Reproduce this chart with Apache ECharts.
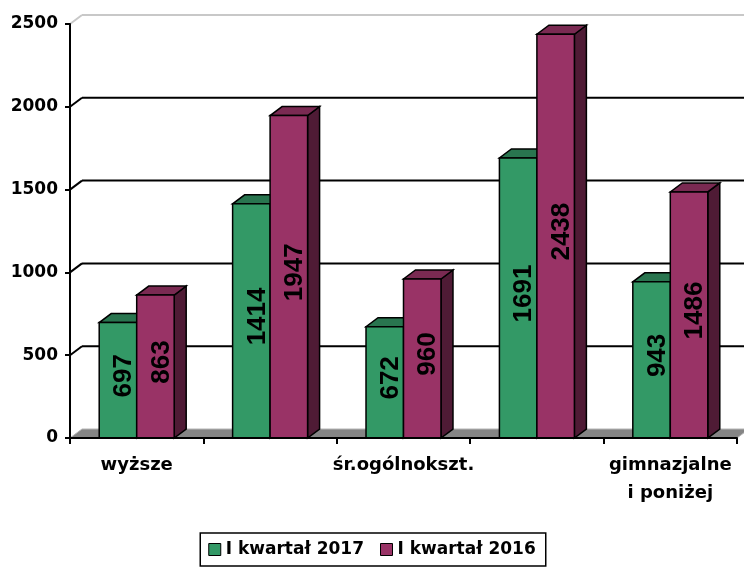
<!DOCTYPE html>
<html>
<head>
<meta charset="utf-8">
<script src="https://cdn.jsdelivr.net/npm/echarts@6/dist/echarts.min.js"></script>
<style>
  html, body { margin: 0; padding: 0; background: #fff; }
  #main { width: 744px; height: 568px; }
</style>
</head>
<body>
<div id="main"></div>
<script>
// data
var categories = ['wyższe', 'policealne i śr.zawod.', 'śr.ogólnokszt.', 'zasadnicze zawodowe', 'gimnazjalne\ni poniżej'];
var seriesNames = ['I kwartał 2017', 'I kwartał 2016'];
var values2017 = [697, 1414, 672, 1691, 943];
var values2016 = [863, 1947, 960, 2438, 1486];
var yTicks = [0, 500, 1000, 1500, 2000, 2500];

var DX = 12, DY = -9; // depth of the fake 3d look
var BAR_FRAC = 0.281;  // one bar's share of the category band
var FONT = 'DejaVu Sans';

var chart = echarts.init(document.getElementById('main'));

// back wall gridlines + grey floor, shifted back by DX/DY
function wallRenderer(params, api) {
  var v = api.value(1);
  var cs = params.coordSys;
  var y = api.coord([0, v])[1];
  var x0 = cs.x, x1 = cs.x + cs.width;
  if (v === 0) {
    return {
      type: 'polygon',
      shape: { points: [[x0, y], [x1, y], [x1 + DX, y + DY], [x0 + DX, y + DY]] },
      style: { fill: '#858585', stroke: '#b5b5b5', lineWidth: 1 }
    };
  }
  var col = v === yTicks[yTicks.length - 1] ? '#c8c8c8' : '#000';
  return {
    type: 'group',
    children: [
      { type: 'line', shape: { x1: x0, y1: y, x2: x0 + DX, y2: y + DY }, style: { stroke: col, lineWidth: 2 } },
      { type: 'line', shape: { x1: x0 + DX, y1: y + DY, x2: x1 + DX, y2: y + DY }, style: { stroke: col, lineWidth: 2 } }
    ]
  };
}

function barRenderer(slot, front, top, side) {
  return function (params, api) {
    var i = api.value(0), v = api.value(1);
    var p = api.coord([i, v]);
    var base = api.coord([i, 0]);
    var bw = api.size([1, 0])[0];
    var w = bw * BAR_FRAC;
    var x = p[0] - w + slot * w;
    var y = p[1], y0 = base[1];
    return {
      type: 'group',
      children: [
        {
          type: 'polygon',
          shape: { points: [[x + w, y], [x + w + DX, y + DY], [x + w + DX, y0 + DY], [x + w, y0]] },
          style: { fill: side, stroke: '#000', lineWidth: 1.5 }
        },
        {
          type: 'polygon',
          shape: { points: [[x, y], [x + w, y], [x + w + DX, y + DY], [x + DX, y + DY]] },
          style: { fill: top, stroke: '#000', lineWidth: 1.5 }
        },
        {
          type: 'rect',
          shape: { x: x, y: y, width: w, height: y0 - y },
          style: { fill: front, stroke: '#000', lineWidth: 1.5 }
        },
        {
          type: 'text',
          x: x + w / 2 + DX / 2,
          y: (y + y0) / 2 + DY / 2,
          rotation: Math.PI / 2,
          style: {
            text: String(v),
            font: 'bold 26px "Liberation Sans", Arial, sans-serif',
            fill: '#000',
            align: 'center',
            verticalAlign: 'middle'
          }
        }
      ]
    };
  };
}

chart.setOption({
  animation: false,
  backgroundColor: '#fff',
  grid: { left: 70, right: 7, top: 24, bottom: 130 },
  legend: {
    data: seriesNames,
    bottom: 2,
    left: 'center',
    borderColor: '#000',
    borderWidth: 1.5,
    padding: [8, 10, 8, 8],
    itemWidth: 12,
    itemHeight: 12,
    itemGap: 16,
    icon: 'rect',
    itemStyle: { borderColor: '#000', borderWidth: 1 },
    textStyle: { fontFamily: FONT, fontWeight: 'bold', fontSize: 17, color: '#000' }
  },
  xAxis: {
    type: 'category',
    data: categories,
    z: 5,
    axisLine: { lineStyle: { color: '#000', width: 2 } },
    axisTick: { show: true, interval: 0, length: 6, lineStyle: { color: '#000', width: 2 } },
    axisLabel: {
      interval: 1,
      margin: 13,
      color: '#000',
      fontFamily: FONT,
      fontWeight: 'bold',
      fontSize: 18,
      lineHeight: 28
    }
  },
  yAxis: {
    type: 'value',
    min: 0,
    max: 2500,
    interval: 500,
    z: 5,
    axisLine: { show: true, lineStyle: { color: '#000', width: 2 } },
    axisTick: { show: true, length: 5, lineStyle: { color: '#000', width: 2 } },
    splitLine: { show: false },
    axisLabel: {
      margin: 12,
      color: '#000',
      fontFamily: FONT,
      fontWeight: 'bold',
      fontSize: 17,
      formatter: function (v) { return String(v); }
    }
  },
  series: [
    {
      name: 'wall',
      type: 'custom',
      z: 1,
      silent: true,
      renderItem: wallRenderer,
      encode: { x: 0, y: 1 },
      data: yTicks.map(function (t) { return [0, t]; })
    },
    {
      name: seriesNames[0],
      type: 'custom',
      z: 2,
      itemStyle: { color: '#339966' },
      renderItem: barRenderer(0, '#339966', '#29754f', '#1f5a3c'),
      encode: { x: 0, y: 1 },
      data: values2017.map(function (v, i) { return [i, v]; })
    },
    {
      name: seriesNames[1],
      type: 'custom',
      z: 2,
      itemStyle: { color: '#993366' },
      renderItem: barRenderer(1, '#993366', '#7a2a52', '#4f1b35'),
      encode: { x: 0, y: 1 },
      data: values2016.map(function (v, i) { return [i, v]; })
    }
  ]
});
</script>
</body>
</html>
